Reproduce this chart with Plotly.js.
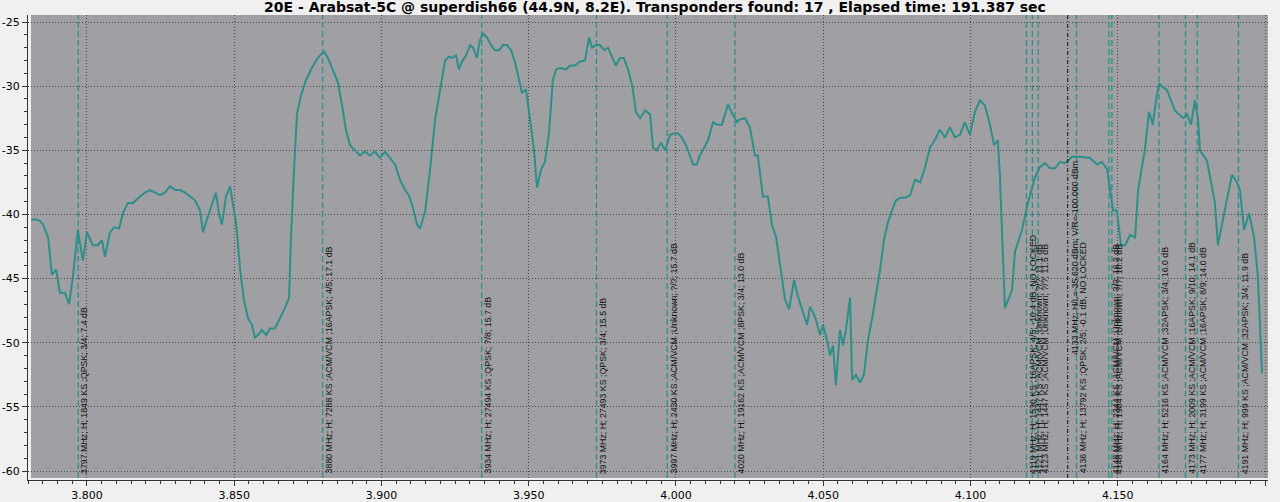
<!DOCTYPE html>
<html>
<head>
<meta charset="utf-8">
<script src="https://cdn.plot.ly/plotly-3.0.1.min.js"></script>
<style>html,body{margin:0;padding:0;background:#f0f0f0;}#chart{width:1280px;height:502px;}</style>
</head>
<body>
<div id="chart"></div>
<script>
// Spectrum trace (frequency in GHz, level in dB)
var freqGHz = [3.7810,3.7827,3.7840,3.7851,3.7868,3.7881,3.7895,3.7908,3.7925,3.7939,3.7952,3.7969,3.7986,3.8000,3.8020,3.8037,3.8051,3.8061,3.8078,3.8092,3.8109,3.8122,3.8139,3.8156,3.8180,3.8197,3.8214,3.8231,3.8248,3.8265,3.8282,3.8299,3.8316,3.8333,3.8350,3.8367,3.8384,3.8394,3.8407,3.8424,3.8438,3.8448,3.8458,3.8472,3.8486,3.8496,3.8506,3.8520,3.8533,3.8547,3.8560,3.8570,3.8581,3.8594,3.8608,3.8621,3.8638,3.8655,3.8672,3.8686,3.8693,3.8703,3.8713,3.8727,3.8744,3.8761,3.8778,3.8791,3.8805,3.8818,3.8835,3.8852,3.8869,3.8879,3.8893,3.8910,3.8927,3.8944,3.8961,3.8978,3.8995,3.9012,3.9029,3.9046,3.9063,3.9080,3.9093,3.9107,3.9121,3.9131,3.9148,3.9165,3.9182,3.9199,3.9216,3.9229,3.9239,3.9253,3.9263,3.9273,3.9287,3.9301,3.9311,3.9324,3.9334,3.9345,3.9358,3.9372,3.9385,3.9399,3.9413,3.9426,3.9440,3.9453,3.9467,3.9477,3.9491,3.9504,3.9518,3.9528,3.9542,3.9555,3.9569,3.9582,3.9593,3.9603,3.9613,3.9626,3.9640,3.9657,3.9674,3.9691,3.9705,3.9715,3.9728,3.9742,3.9756,3.9769,3.9783,3.9796,3.9810,3.9823,3.9837,3.9851,3.9864,3.9878,3.9895,3.9912,3.9922,3.9935,3.9949,3.9963,3.9980,3.9993,4.0007,4.0020,4.0034,4.0048,4.0058,4.0071,4.0081,4.0098,4.0109,4.0126,4.0139,4.0156,4.0177,4.0190,4.0207,4.0217,4.0234,4.0251,4.0268,4.0278,4.0295,4.0312,4.0326,4.0340,4.0370,4.0384,4.0401,4.0414,4.0431,4.0445,4.0455,4.0465,4.0475,4.0489,4.0499,4.0513,4.0523,4.0533,4.0543,4.0557,4.0567,4.0577,4.0591,4.0598,4.0611,4.0625,4.0638,4.0652,4.0666,4.0679,4.0693,4.0706,4.0720,4.0733,4.0747,4.0761,4.0778,4.0795,4.0812,4.0829,4.0845,4.0862,4.0879,4.0896,4.0913,4.0930,4.0947,4.0964,4.0981,4.0998,4.1015,4.1032,4.1049,4.1066,4.1080,4.1093,4.1100,4.1117,4.1141,4.1151,4.1175,4.1195,4.1219,4.1236,4.1253,4.1270,4.1287,4.1304,4.1321,4.1345,4.1372,4.1406,4.1430,4.1446,4.1464,4.1474,4.1484,4.1497,4.1511,4.1525,4.1542,4.1559,4.1569,4.1582,4.1592,4.1606,4.1619,4.1630,4.1640,4.1654,4.1667,4.1681,4.1694,4.1708,4.1722,4.1735,4.1749,4.1762,4.1773,4.1779,4.1803,4.1830,4.1840,4.1857,4.1888,4.1905,4.1915,4.1929,4.1946,4.1963,4.1976,4.1990];
var levelDB = [-40.4,-40.4,-40.5,-40.8,-41.8,-44.7,-44.3,-46.1,-46.1,-47.0,-44.9,-41.2,-43.6,-41.4,-42.4,-42.4,-42.0,-43.3,-41.4,-41.0,-41.1,-39.9,-39.1,-39.1,-38.6,-38.3,-38.1,-38.3,-38.5,-38.3,-37.8,-38.1,-38.1,-38.3,-38.6,-38.9,-39.7,-41.4,-40.4,-39.3,-38.3,-39.9,-40.8,-38.6,-37.8,-39.3,-40.6,-44.3,-46.7,-48.1,-48.6,-49.6,-49.4,-49.0,-49.4,-48.9,-48.9,-48.1,-47.3,-46.5,-41.6,-36.5,-32.2,-30.7,-29.5,-28.7,-28.0,-27.6,-27.3,-27.8,-28.7,-29.7,-31.9,-33.4,-34.6,-35.0,-35.4,-35.1,-35.4,-35.1,-35.6,-35.1,-35.6,-36.1,-37.3,-38.1,-38.5,-39.5,-40.8,-41.1,-39.8,-36.5,-32.6,-30.3,-28.0,-27.7,-27.8,-27.6,-28.7,-28.1,-27.6,-26.8,-27.0,-27.8,-26.4,-25.9,-26.2,-26.8,-27.2,-27.2,-26.8,-26.8,-27.2,-28.1,-29.5,-30.5,-30.3,-32.5,-35.0,-37.9,-36.5,-35.9,-33.6,-29.5,-28.7,-28.6,-28.6,-28.7,-28.4,-28.4,-28.1,-28.0,-26.2,-27.0,-26.8,-26.8,-27.2,-27.0,-27.7,-28.4,-27.8,-27.8,-28.7,-29.9,-32.0,-32.5,-31.9,-32.2,-34.8,-35.0,-34.4,-35.0,-33.8,-33.7,-33.7,-34.0,-34.6,-35.5,-36.1,-36.1,-35.4,-34.7,-34.2,-32.8,-33.0,-33.0,-31.4,-32.1,-32.8,-32.6,-32.5,-33.2,-35.4,-35.4,-38.6,-38.6,-40.8,-41.8,-46.6,-47.4,-45.1,-46.4,-47.6,-48.6,-47.2,-47.6,-48.2,-49.4,-48.6,-49.8,-51.0,-50.2,-53.3,-49.0,-50.2,-49.0,-46.5,-52.9,-52.5,-53.1,-52.5,-49.8,-48.1,-46.4,-44.3,-42.0,-40.6,-39.7,-38.9,-38.7,-38.7,-38.5,-37.3,-37.5,-36.4,-34.8,-34.2,-33.4,-34.0,-33.2,-34.0,-33.8,-32.8,-33.8,-32.0,-31.1,-31.5,-33.0,-34.6,-34.2,-37.1,-47.3,-45.9,-42.9,-41.2,-39.1,-37.1,-36.3,-36.0,-36.4,-36.4,-35.9,-36.0,-35.5,-35.5,-35.6,-36.1,-35.9,-36.5,-38.1,-39.7,-39.7,-42.4,-42.4,-41.6,-41.8,-38.1,-36.3,-35.0,-32.0,-33.0,-31.1,-29.8,-30.1,-30.3,-31.1,-31.9,-32.2,-32.5,-32.2,-33.0,-31.1,-32.6,-35.0,-35.8,-39.1,-42.4,-40.4,-36.9,-37.5,-38.1,-41.2,-39.9,-41.8,-44.9,-52.4];

// Transponders found
var tpFreqGHz = [3.797,3.880,3.934,3.973,3.997,4.020,4.119,4.121,4.123,4.136,4.147,4.148,4.164,4.173,4.177,4.191];
var tpLabels = [
 "3797 MHz; H; 1849 KS ;QPSK; 3/4; 7.4 dB",
 "3880 MHz; H; 7288 KS ;ACM/VCM ;16APSK; 4/5; 17.1 dB",
 "3934 MHz; H; 27494 KS ;QPSK; 7/8; 15.7 dB",
 "3973 MHz; H; 27493 KS ;QPSK; 3/4; 15.5 dB",
 "3997 MHz; H; 2430 KS ;ACM/VCM ;Unknown; ?/?; 15.7 dB",
 "4020 MHz; H; 19162 KS ;ACM/VCM ;8PSK; 3/4; 13.0 dB",
 "4119 MHz; H; 1530 KS ;16APSK; 4/5; -10.4 dB, NO LOCKED",
 "4121 MHz; H; 1447 KS ;ACM/VCM ;Unknown; ?/?; 11.1 dB",
 "4123 MHz; H; 1447 KS ;ACM/VCM ;Unknown; ?/?; 11.5 dB",
 "4136 MHz; H; 13792 KS ;QPSK; 2/5; -0.1 dB, NO LOCKED",
 "4148 MHz; H; 2344 KS ;ACM/VCM ;Unknown; ?/?; 16.2 dB",
 "4148 MHz; H; 1984 KS ;ACM/VCM ;Unknown; ?/?; 10.2 dB",
 "4164 MHz; H; 5216 KS ;ACM/VCM ;32APSK; 3/4; 16.0 dB",
 "4173 MHz; H; 2009 KS ;ACM/VCM ;16APSK; 9/10; 14.1 dB",
 "4177 MHz; H; 3199 KS ;ACM/VCM ;16APSK; 8/9; 14.0 dB",
 "4191 MHz; H; 999 KS ;ACM/VCM ;32APSK; 3/4; 11.9 dB"
];

// Marker (cursor) line
var markerFreqGHz = 4.133;
var markerLabel = "4133 MHz; H/L=-35.620 dBm; V/R=-100.000 dBm";
var markerLevelDB = -51.1;

// Axis ticks
var xTickVals = [3.80,3.85,3.90,3.95,4.00,4.05,4.10,4.15,4.20];
var xTickText = ["3.800","3.850","3.900","3.950","4.000","4.050","4.100","4.150","4.200"];
var yTickVals = [-60,-55,-50,-45,-40,-35,-30,-25];
var yTickText = ["-60","-55","-50","-45","-40","-35","-30","-25"];

var titleText = "20E - Arabsat-5C @ superdish66 (44.9N, 8.2E). Transponders found: 17 , Elapsed time: 191.387 sec";

var teal = "#2e8f88";
var gb = 0.0043; // grey area bottom inset (domain fraction)
var shapes = [{
  type:"rect", xref:"x domain", yref:"y domain", x0:0.0024, x1:1, y0:gb, y1:1,
  fillcolor:"#a0a0a4", line:{width:0}, layer:"below"
}];
var annotations = [];
var labelFont = {family:"Liberation Sans, Arial, sans-serif", size:8.8, color:"#111"};
tpFreqGHz.forEach(function(f,i){
  shapes.push({type:"line", xref:"x", yref:"y domain", x0:f, x1:f, y0:gb, y1:1,
    line:{color:teal, width:1.3, dash:"6px,3px"}, layer:"above"});
  annotations.push({x:f, xref:"x", y:0.009, yref:"paper", yanchor:"bottom", xanchor:"center",
    xshift:6.5, text:tpLabels[i], textangle:-90, showarrow:false, font:labelFont});
});
shapes.push({type:"line", xref:"x", yref:"y domain", x0:markerFreqGHz, x1:markerFreqGHz, y0:gb, y1:1,
  line:{color:"#111", width:1, dash:"4px,2px,1px,2px"}, layer:"above"});
annotations.push({x:markerFreqGHz, xref:"x", y:markerLevelDB, yref:"y", yanchor:"bottom", xanchor:"center",
  xshift:7.5, text:markerLabel, textangle:-90, showarrow:false, font:labelFont});

var trace = {x:freqGHz, y:levelDB, type:"scatter", mode:"lines",
  line:{color:teal, width:2}, hoverinfo:"x+y"};

var tickFont = {family:"DejaVu Sans, sans-serif", size:11, color:"#000"};
var layout = {
  width:1280, height:502,
  margin:{l:28, r:12, t:15, b:22},
  paper_bgcolor:"#f0f0f0", plot_bgcolor:"rgba(0,0,0,0)",
  showlegend:false,
  title:{text:titleText, x:655/1280, xref:"container", xanchor:"center", y:1-7/502, yref:"container", yanchor:"middle",
    font:{family:"DejaVu Sans, sans-serif", size:14, color:"#000", weight:"bold"}},
  xaxis:{range:[3.77997,4.20102], tickvals:xTickVals, ticktext:xTickText, ticks:"outside", ticklen:5,
    tickcolor:"#333", showline:true, linecolor:"#333", linewidth:1, showgrid:true, gridcolor:"#4a4a4a",
    griddash:"1px,2px", gridwidth:1, zeroline:false, tickfont:tickFont,
    minor:{dtick:0.005, ticks:"outside", ticklen:3, tickcolor:"#333", showgrid:false}},
  yaxis:{range:[-60.70,-24.454], tickvals:yTickVals, ticktext:yTickText, ticks:"outside", ticklen:5,
    tickcolor:"#333", showline:true, linecolor:"#333", linewidth:1, showgrid:true, gridcolor:"#4a4a4a",
    griddash:"1px,2px", gridwidth:1, zeroline:false, tickfont:tickFont,
    minor:{dtick:1, ticks:"outside", ticklen:3, tickcolor:"#333", showgrid:false}},
  shapes:shapes, annotations:annotations
};
Plotly.newPlot("chart",[trace],layout,{displayModeBar:false, staticPlot:true});
</script>
</body>
</html>
